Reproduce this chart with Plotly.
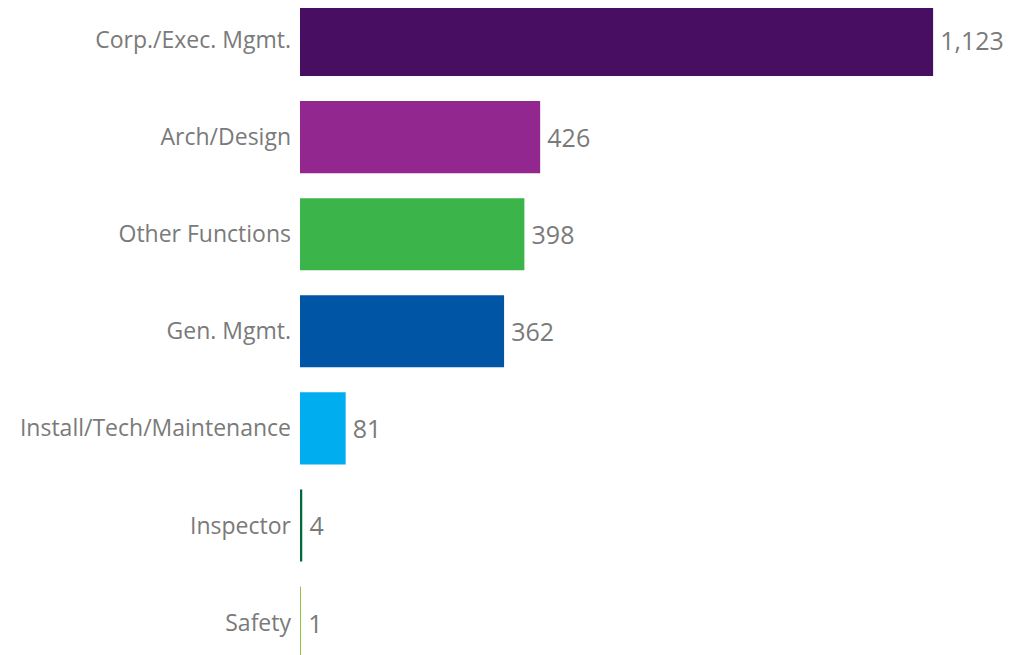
import plotly.graph_objects as go

categories = ["Corp./Exec. Mgmt.", "Arch/Design", "Other Functions", "Gen. Mgmt.",
              "Install/Tech/Maintenance", "Inspector", "Safety"]
counts = [1123, 426, 398, 362, 81, 4, 1]
bar_colors = ["#470E61", "#92278F", "#3BB54A", "#0055A5", "#00AEEF", "#006B3C", "#8DC63F"]

positions = list(range(len(categories)))

fig = go.Figure(
    go.Bar(
        x=counts,
        y=positions,
        orientation="h",
        width=0.742,
        marker=dict(color=bar_colors, line=dict(width=0)),
        text=["\u2009" + f"{v:,}" for v in counts],
        textposition="outside",
        cliponaxis=False,
        textfont=dict(family="Open Sans", size=25, color="#7a7a7a"),
        hoverinfo="skip",
    )
)

# page body has an 8px margin, so the figure is shrunk and shifted to compensate
fig.update_layout(
    width=1017,
    height=647,
    margin=dict(l=292, r=0, t=0, b=0),
    plot_bgcolor="white",
    paper_bgcolor="white",
    showlegend=False,
    xaxis=dict(
        range=[0, 1286],
        visible=False,
        showgrid=False,
        zeroline=False,
    ),
    yaxis=dict(
        range=[6.334, -0.33],
        tickvals=positions,
        ticktext=categories,
        showgrid=False,
        zeroline=False,
        showline=False,
        ticks="",
        ticklabelstandoff=8,
        tickfont=dict(family="Open Sans", size=23, color="#7a7a7a"),
    ),
)

fig.write_html("out.html")
